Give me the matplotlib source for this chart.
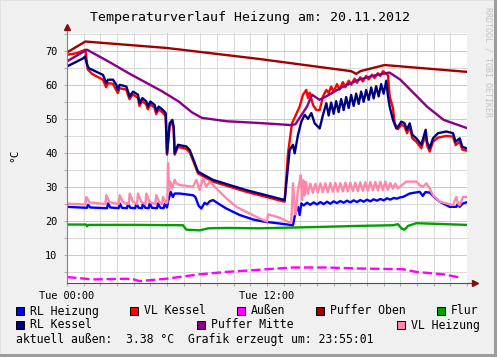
import matplotlib
matplotlib.use("Agg")
import matplotlib.pyplot as plt
from matplotlib.patches import Rectangle

# hours since Tue 00:00, values in degrees C
rl_heizung_h = [0, 1.2, 1.26, 1.4, 2.4, 2.46, 2.6, 3.1, 3.16, 3.3, 3.6, 3.66, 3.8, 4.1, 4.16, 4.3,
                4.5, 4.56, 4.7, 4.9, 4.96, 5.1, 5.4, 5.46, 5.6, 5.8, 5.86, 6.0, 6.06, 6.22, 6.35,
                6.46, 6.76, 7.56, 7.7, 7.9, 8.06, 8.26, 8.4, 8.56, 8.76, 9.06, 9.56, 10.36, 11.16,
                11.76, 12.76, 13.56, 13.66, 13.76, 13.86, 13.96, 14.06, 14.2, 14.4, 14.6, 14.8,
                15.0, 15.2, 15.4, 15.6, 15.8, 16.0, 16.2, 16.4, 16.6, 16.8, 17.0, 17.2, 17.4, 17.6,
                17.8, 18.0, 18.2, 18.4, 18.6, 18.8, 19.0, 19.2, 19.4, 19.6, 19.8, 20.0, 20.16,
                20.56, 21.16, 21.35, 21.5, 21.76, 22.0, 22.36, 22.96, 23.36, 23.46, 23.56, 23.76,
                23.96]
rl_heizung_v = [24.2, 23.9, 24.8, 24.0, 23.8, 25.2, 24.0, 23.8, 25.2, 23.9, 23.8, 25.2, 23.9, 23.8,
                25.2, 23.9, 23.8, 25.2, 23.9, 23.8, 25.2, 23.9, 23.8, 25.2, 23.9, 23.8, 25.0, 24.0,
                25.7, 28.6, 27.1, 28.1, 28.1, 27.6, 27.1, 24.5, 23.7, 25.4, 24.9, 25.8, 26.2, 25.2,
                23.7, 21.8, 20.5, 19.9, 19.3, 18.8, 21.3, 23.2, 24.2, 21.8, 25.2, 24.6, 25.4, 24.8,
                25.5, 24.9, 25.6, 25.0, 25.7, 25.1, 25.8, 25.3, 25.9, 25.4, 26.0, 25.5, 26.1, 25.6,
                26.2, 25.7, 26.3, 25.8, 26.4, 26.0, 26.5, 26.1, 26.7, 26.3, 26.8, 26.6, 27.0, 27.1,
                28.1, 28.6, 27.4, 28.5, 28.4, 27.2, 25.7, 24.2, 24.2, 25.2, 24.2, 25.2, 25.5]

vl_kessel_h = [0, 0.6, 1.1, 1.25, 1.5, 2.15, 2.35, 2.45, 2.75, 3.05, 3.15, 3.55, 3.75, 3.95, 4.25,
               4.35, 4.5, 4.75, 4.85, 5.0, 5.25, 5.35, 5.5, 5.75, 5.92, 6.0, 6.16, 6.32, 6.4, 6.46,
               6.66, 7.16, 7.36, 7.56, 7.86, 8.76, 10.76, 13.06, 13.26, 13.5, 13.96, 14.16, 14.36,
               14.46, 14.56, 14.76, 14.96, 15.16, 15.36, 15.56, 15.7, 15.85, 16.0, 16.2, 16.35,
               16.55, 16.7, 16.9, 17.05, 17.25, 17.4, 17.6, 17.75, 17.95, 18.1, 18.3, 18.45, 18.65,
               18.8, 18.96, 19.26, 19.36, 19.56, 19.66, 19.86, 20.06, 20.25, 20.4, 20.56, 20.72,
               20.96, 21.26, 21.52, 21.6, 21.76, 21.96, 22.26, 22.76, 23.16, 23.32, 23.56, 23.72,
               23.96]
vl_kessel_v = [68.8, 69.3, 70.3, 64.5, 63.2, 61.5, 59.3, 60.5, 60.3, 57.6, 59.0, 58.6, 55.8, 57.2,
               56.2, 53.8, 55.2, 54.3, 52.8, 54.3, 53.3, 51.4, 52.8, 51.8, 50.8, 39.5, 48.0, 49.0,
               47.0, 39.5, 41.8, 41.2, 40.2, 37.8, 34.0, 31.6, 28.6, 25.7, 39.9, 48.7, 53.6, 57.1,
               58.5, 56.1, 57.7, 54.1, 52.6, 52.6, 56.6, 58.5, 57.6, 59.5, 58.0, 60.2, 58.6, 60.8,
               59.3, 61.2, 60.0, 61.8, 60.6, 62.2, 61.0, 62.6, 61.6, 63.0, 62.0, 63.4, 62.6, 64.0,
               62.8, 56.6, 53.1, 48.7, 47.0, 48.3, 47.8, 45.8, 47.7, 44.3, 43.3, 41.4, 45.5, 42.3,
               40.4, 43.3, 44.5, 45.0, 44.8, 42.3, 43.3, 41.0, 40.7]

aussen_h = [0, 1.56, 3.56, 4.0, 4.36, 5.0, 5.96, 7.96, 9.56, 11.16, 12.0, 13.56, 15.56, 17.56,
            20.16, 20.96, 22.56, 23.66]
aussen_v = [3.6, 2.9, 3.1, 2.9, 2.4, 2.7, 3.1, 4.4, 5.1, 5.6, 5.9, 6.4, 6.4, 6.1, 5.9, 5.1, 4.4, 3.4]

puffer_oben_h = [0, 1.1, 6.0, 11.5, 17.05, 17.35, 17.6, 19.05, 24.0]
puffer_oben_v = [69.5, 72.7, 70.8, 67.6, 64.0, 63.2, 64.0, 65.8, 63.8]

flur_h = [0, 1.15, 1.2, 1.3, 4.0, 6.96, 7.16, 7.96, 8.3, 8.5, 9.56, 11.56, 15.16, 17.5, 19.56,
          19.86, 20.06, 20.26, 20.46, 20.96, 23.96]
flur_v = [19.0, 19.0, 18.5, 18.9, 18.9, 18.8, 17.5, 17.3, 17.7, 17.9, 18.0, 17.9, 18.3, 18.6,
          18.8, 19.1, 17.9, 17.5, 18.6, 19.4, 18.9]

rl_kessel_h = [0, 0.5, 0.98, 1.08, 1.2, 1.3, 1.6, 2.16, 2.36, 2.46, 2.76, 2.96, 3.06, 3.16, 3.56,
               3.76, 3.96, 4.26, 4.36, 4.52, 4.76, 4.86, 5.0, 5.26, 5.36, 5.5, 5.76, 5.92, 6.0,
               6.16, 6.32, 6.4, 6.46, 6.66, 7.16, 7.36, 7.56, 7.86, 8.76, 10.76, 13.06, 13.16,
               13.36, 13.56, 13.66, 13.86, 14.06, 14.26, 14.46, 14.66, 14.86, 15.16, 15.36, 15.56,
               15.7, 15.85, 16.0, 16.15, 16.3, 16.45, 16.6, 16.75, 16.9, 17.05, 17.2, 17.35, 17.5,
               17.65, 17.8, 17.95, 18.1, 18.25, 18.4, 18.55, 18.7, 18.85, 19.0, 19.16, 19.26,
               19.36, 19.56, 19.76, 19.86, 20.06, 20.25, 20.4, 20.56, 20.72, 20.96, 21.26, 21.52,
               21.6, 21.76, 21.96, 22.26, 22.76, 23.16, 23.32, 23.56, 23.72, 23.96]
rl_kessel_v = [65.4, 66.6, 67.8, 68.3, 65.9, 64.9, 64.2, 62.9, 60.5, 61.5, 61.5, 60.0, 58.5, 60.0,
               59.5, 56.6, 58.0, 57.1, 54.6, 56.1, 55.1, 53.6, 55.1, 54.1, 52.2, 53.6, 52.6, 51.7,
               39.9, 48.7, 49.7, 47.7, 39.9, 42.4, 41.9, 40.9, 38.4, 34.5, 32.1, 29.1, 26.2, 31.1,
               40.9, 42.4, 39.9, 45.3, 49.2, 51.2, 50.0, 51.7, 48.7, 47.2, 51.2, 54.6, 51.0, 54.8,
               51.5, 55.2, 52.0, 55.8, 52.6, 56.4, 53.2, 57.0, 53.8, 57.4, 54.4, 58.0, 55.0, 58.5,
               55.6, 59.2, 56.0, 59.6, 56.6, 60.2, 57.4, 61.2, 56.6, 53.6, 49.7, 47.2, 47.7, 49.2,
               48.7, 46.8, 48.7, 45.3, 44.3, 42.4, 46.8, 43.3, 41.4, 44.3, 45.8, 46.3, 45.8, 43.3,
               44.3, 41.8, 41.4]

puffer_mitte_h = [0, 1.2, 2.5, 3.7, 5.7, 6.7, 7.5, 8.1, 9.6, 11.5, 13.4, 13.7, 14.4, 14.7, 15.15,
                  15.55, 16.5, 17.5, 18.5, 19.35, 20.0, 21.0, 21.6, 22.6, 24.0]
puffer_mitte_v = [66.9, 70.3, 66.8, 63.4, 58.1, 55.1, 51.9, 50.3, 49.3, 48.8, 48.2, 48.4, 53.6, 57.1,
                  55.6, 56.6, 59.3, 61.5, 62.8, 63.6, 61.5, 56.6, 53.6, 49.7, 47.3]

vl_heizung_h = [0, 1.1, 1.16, 1.35, 2.3, 2.36, 2.55, 3.1, 3.16, 3.35, 3.7, 3.76, 3.95, 4.2, 4.26,
                4.45, 4.7, 4.76, 4.95, 5.3, 5.36, 5.55, 5.7, 5.76, 5.95, 6.02, 6.06, 6.12, 6.2, 6.3,
                6.46, 6.56, 6.76, 7.56, 7.76, 7.96, 8.16, 8.36, 8.56, 8.96, 9.56, 10.16, 10.76,
                11.56, 12.0, 12.06, 12.76, 13.4, 13.46, 13.56, 13.62, 13.7, 13.76, 13.85, 13.96,
                14.03, 14.1, 14.18, 14.25, 14.35, 14.45, 14.6, 14.75, 14.9, 15.05, 15.2, 15.35, 15.5,
                15.65, 15.8, 15.95, 16.1, 16.25, 16.4, 16.55, 16.7, 16.85, 17.0, 17.15, 17.3, 17.45,
                17.6, 17.75, 17.9, 18.05, 18.2, 18.35, 18.5, 18.65, 18.8, 18.95, 19.1, 19.25, 19.4,
                19.55, 19.7, 19.85, 20.0, 20.36, 20.96, 21.2, 21.36, 21.56, 21.76, 21.96, 22.36,
                22.76, 23.16, 23.36, 23.46, 23.56, 23.76, 23.96]
vl_heizung_v = [25.1, 24.9, 27.1, 25.5, 25.0, 27.6, 25.6, 25.0, 27.6, 25.6, 25.0, 28.1, 25.7, 25.0,
                28.1, 25.7, 25.0, 28.1, 25.6, 25.0, 27.6, 25.5, 25.0, 27.1, 25.3, 25.5, 37.0, 29.1,
                31.6, 29.6, 32.1, 31.1, 30.6, 30.1, 32.1, 29.1, 32.6, 30.1, 31.6, 29.6, 26.7, 24.2,
                22.7, 20.8, 19.9, 22.0, 21.0, 19.5, 19.8, 31.1, 27.0, 22.0, 23.5, 29.0, 31.6, 33.5,
                26.2, 32.0, 27.5, 31.5, 28.0, 31.0, 28.3, 31.0, 28.4, 31.1, 28.5, 31.1, 28.5, 31.2,
                28.6, 31.2, 28.6, 31.2, 28.7, 31.3, 28.7, 31.3, 28.8, 31.3, 28.8, 31.4, 28.9, 31.4,
                28.9, 31.5, 29.0, 31.5, 29.0, 31.6, 29.1, 31.6, 29.2, 31.2, 29.5, 31.0, 29.6, 30.2,
                31.6, 31.6, 30.4, 30.1, 31.1, 29.6, 27.6, 25.7, 25.2, 24.7, 27.1, 25.2, 24.7, 27.1,
                27.1]

series = [
    ("RL Heizung", rl_heizung_h, rl_heizung_v, "#0000FF"),
    ("VL Kessel", vl_kessel_h, vl_kessel_v, "#FF0000"),
    ("Außen", aussen_h, aussen_v, "#FF00FF"),
    ("Puffer Oben", puffer_oben_h, puffer_oben_v, "#A00000"),
    ("Flur", flur_h, flur_v, "#00A000"),
    ("RL Kessel", rl_kessel_h, rl_kessel_v, "#000080"),
    ("Puffer Mitte", puffer_mitte_h, puffer_mitte_v, "#880088"),
    ("VL Heizung", vl_heizung_h, vl_heizung_v, "#FF88AA"),
]

x_ticks = [0, 6, 12, 18]
x_labels = ["Tue 00:00", "", "Tue 12:00", ""]
y_ticks = [10, 20, 30, 40, 50, 60, 70]

W, H = 497, 357
MONO = "DejaVu Sans Mono"
BG = "#F0F0F0"

fig = plt.figure(figsize=(W / 100, H / 100), dpi=100, facecolor=BG)


def fx(px):
    return px / W


def fy(py):
    return 1 - py / H


ax = fig.add_axes([fx(67), fy(283), fx(400), 250 / H])
ax.set_facecolor("white")

for name, hh, vv, col in series:
    if name == "Außen":
        ax.plot(hh, vv, color=col, lw=1.7, dashes=(4, 1.6))
    else:
        ax.plot(hh, vv, color=col, lw=1.7)

ax.set_xlim(0, 24)
ax.set_ylim(1.85, 75.2)

ax.set_xticks(x_ticks)
ax.set_xticklabels(x_labels)
ax.set_xticks(range(0, 25), minor=True)
ax.set_yticks(y_ticks)
ax.set_yticks([5, 15, 25, 35, 45, 55, 65, 75], minor=True)

ax.grid(which="minor", color="#D8D8D8", lw=0.7)
ax.grid(which="major", color="#F4B4B4", lw=0.7)
ax.set_axisbelow(True)

ax.tick_params(which="both", length=2, width=0.6, color="#A0A0A0",
               labelsize=7.4, labelcolor="black")
ax.tick_params(axis="x", which="major", pad=4)
ax.tick_params(axis="y", which="major", pad=5)
for lbl in ax.get_xticklabels() + ax.get_yticklabels():
    lbl.set_family(MONO)

for s in ("top", "right"):
    ax.spines[s].set_visible(False)
ax.spines["left"].set_color("#C86464")
ax.spines["bottom"].set_color("#505050")
ax.spines["left"].set_linewidth(0.8)
ax.spines["bottom"].set_linewidth(0.8)

# axis arrows
ax.plot([0, 0], [1.0, 1.02], transform=ax.transAxes, clip_on=False, color="#C86464", lw=0.8)
ax.plot([0], [1.024], transform=ax.transAxes, clip_on=False, marker="^", ms=4,
        color="#7F1010", mec="#7F1010")
ax.plot([1.0, 1.016], [0, 0], transform=ax.transAxes, clip_on=False, color="#505050", lw=0.8)
ax.plot([1.019], [0], transform=ax.transAxes, clip_on=False, marker=">", ms=4,
        color="#7F1010", mec="#7F1010")

fig.text(fx(250), fy(17), "Temperaturverlauf Heizung am: 20.11.2012", family=MONO,
         fontsize=9.5, ha="center", va="center")
fig.text(fx(14), fy(155), "°C", family=MONO, fontsize=8, rotation=90, ha="center", va="center")
fig.text(fx(488), fy(62), "RRDTOOL / TOBI OETIKER", family=MONO, fontsize=6, rotation=-90,
         ha="center", va="center", color="#C4C4C4")

# legend
legend_pos = [
    (16, 311), (130, 311), (237, 311), (316, 311), (437, 311),
    (16, 325), (197, 325), (397, 325),
]
for (name, _, _, col), (lx, ly) in zip(series, legend_pos):
    fig.patches.append(Rectangle((fx(lx), fy(ly + 4)), 8 / W, 8 / H, transform=fig.transFigure,
                                 facecolor=col, edgecolor="black", lw=0.7))
    fig.text(fx(lx + 14), fy(ly), name, family=MONO, fontsize=8.3, ha="left", va="center")

fig.text(fx(16), fy(339), "aktuell außen:  3.38 °C  Grafik erzeugt um: 23:55:01", family=MONO,
         fontsize=8.3, ha="left", va="center")

# frame shading
fig.patches.append(Rectangle((0, 1 - 1 / H), 1, 1 / H, transform=fig.transFigure,
                             facecolor="#E2E2E2", edgecolor="none"))
fig.patches.append(Rectangle((0, 0), 1 / W, 1, transform=fig.transFigure,
                             facecolor="#E2E2E2", edgecolor="none"))
fig.patches.append(Rectangle((0, 0), 1, 3 / H, transform=fig.transFigure,
                             facecolor="#9C9C9C", edgecolor="none"))
fig.patches.append(Rectangle((1 - 3 / W, 0), 3 / W, 1, transform=fig.transFigure,
                             facecolor="#9C9C9C", edgecolor="none"))

fig.savefig("out.png", dpi=100, facecolor=BG)
